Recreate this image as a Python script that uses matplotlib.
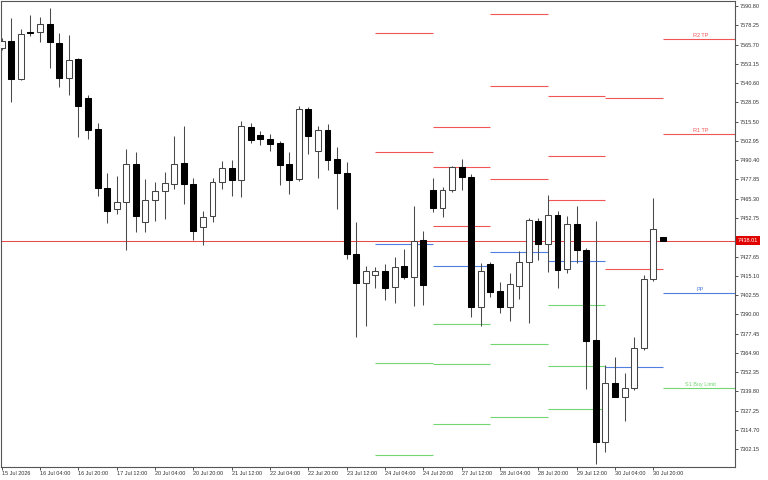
import numpy as np
import matplotlib
matplotlib.use('Agg')
from matplotlib import pyplot as plt

# H4 candles, 15 Jul 12:00 .. 31 Jul 00:00
opens = [7563.45, 7568.21, 7543.07, 7573.68, 7573.68, 7579.08, 7566.90, 7544.11, 7556.09, 7531.09,
         7510.71, 7472.48, 7458.41, 7462.97, 7488.11, 7449.95, 7464.47, 7470.33, 7475.08, 7488.76,
         7474.89, 7447.08, 7454.25, 7476.00, 7485.31, 7477.69, 7512.01, 7506.80, 7504.39, 7501.39,
         7488.11, 7477.95, 7523.73, 7496.18, 7509.86, 7491.17, 7482.25, 7429.31, 7410.62, 7415.43,
         7418.23, 7407.62, 7421.30, 7414.13, 7438.42, 7471.18, 7459.46, 7471.18, 7485.76, 7479.64,
         7394.99, 7422.60, 7405.21, 7394.60, 7408.66, 7423.90, 7450.99, 7435.82, 7454.70, 7419.54,
         7448.84, 7432.11, 7373.50, 7307.08, 7345.50, 7336.38, 7341.85, 7367.90, 7412.83, 7440.18]
highs = [7569.96, 7582.79, 7575.83, 7584.94, 7583.83, 7589.31, 7573.03, 7572.11, 7557.00, 7532.85,
         7514.42, 7481.86, 7480.10, 7497.49, 7495.53, 7478.15, 7476.00, 7482.51, 7506.34, 7512.66,
         7478.60, 7457.50, 7478.60, 7489.87, 7490.52, 7515.91, 7514.42, 7509.40, 7507.45, 7502.89,
         7495.73, 7525.68, 7525.23, 7512.66, 7513.77, 7498.98, 7489.22, 7449.95, 7421.69, 7420.84,
         7422.79, 7427.03, 7432.76, 7460.56, 7444.48, 7478.80, 7472.94, 7486.81, 7490.97, 7481.40,
         7423.25, 7424.10, 7410.88, 7416.74, 7431.06, 7452.55, 7452.55, 7467.73, 7457.31, 7454.05,
         7460.56, 7433.02, 7450.99, 7357.02, 7362.04, 7351.62, 7375.45, 7415.63, 7465.97, 7440.18]
lows = [7562.15, 7528.48, 7542.61, 7571.46, 7567.55, 7550.62, 7537.86, 7532.85, 7505.69, 7504.19,
        7467.27, 7449.69, 7455.16, 7431.91, 7443.44, 7443.44, 7450.99, 7451.90, 7471.63, 7461.87,
        7438.42, 7435.17, 7450.34, 7471.63, 7467.07, 7466.23, 7501.39, 7500.48, 7496.38, 7474.43,
        7468.18, 7476.84, 7494.43, 7478.99, 7483.81, 7458.61, 7425.85, 7375.06, 7382.42, 7406.84,
        7399.15, 7397.72, 7412.83, 7395.64, 7396.09, 7456.46, 7453.60, 7469.88, 7470.98, 7388.08,
        7382.61, 7401.50, 7391.08, 7385.87, 7400.00, 7384.57, 7425.59, 7417.78, 7406.97, 7416.74,
        7423.25, 7341.39, 7292.55, 7300.56, 7335.99, 7320.75, 7340.74, 7366.79, 7411.72, 7438.01]
closes = [7568.01, 7543.07, 7572.37, 7573.22, 7578.89, 7567.16, 7544.11, 7555.44, 7525.68, 7510.05,
          7472.09, 7457.50, 7462.97, 7487.72, 7453.86, 7464.27, 7470.14, 7475.34, 7487.91, 7474.69,
          7444.48, 7453.60, 7476.00, 7485.11, 7477.30, 7512.46, 7503.54, 7504.19, 7500.74, 7487.46,
          7477.30, 7523.73, 7506.34, 7509.86, 7490.52, 7482.05, 7429.31, 7410.62, 7418.04, 7418.04,
          7406.97, 7421.16, 7414.13, 7437.77, 7408.92, 7459.06, 7471.18, 7485.76, 7479.64, 7394.60,
          7418.04, 7404.36, 7394.60, 7409.57, 7423.90, 7451.25, 7435.62, 7454.70, 7418.89, 7448.84,
          7431.71, 7372.46, 7307.08, 7345.10, 7336.38, 7341.85, 7367.90, 7412.83, 7445.39, 7438.01]

tick_idx = list(range(0, 69, 4))
tick_labels = ['15 Jul 2026', '16 Jul 04:00', '16 Jul 20:00', '17 Jul 12:00', '20 Jul 04:00',
               '20 Jul 20:00', '21 Jul 12:00', '22 Jul 04:00', '22 Jul 20:00', '23 Jul 12:00',
               '24 Jul 04:00', '24 Jul 20:00', '27 Jul 12:00', '28 Jul 04:00', '28 Jul 20:00',
               '29 Jul 12:00', '30 Jul 04:00', '30 Jul 20:00']

# daily pivot levels (start candle of each day)
day_start = [39, 45, 51, 57, 63, 69]
r_levels = [[7573.03, 7495.53], [7511.81, 7486.16, 7447.34], [7585.59, 7538.51, 7478.15],
            [7532.00, 7492.93, 7464.27], [7530.89, 7419.34], [7569.12, 7507.25]]
pp_levels = [7435.62, 7421.49, 7430.41, 7424.55, 7355.91, 7403.91]
s_levels = [[7358.13, 7298.22], [7383.53, 7357.48, 7318.80], [7370.50, 7322.96],
            [7396.29, 7356.17, 7328.17], [], [7342.24]]
last_labels = {7569.12: 'R2 TP', 7507.25: 'R1 TP', 7403.91: 'PP', 7342.24: 'S1 Buy Limit'}

current_price = 7438.01
ytick_top = 7590.80
ytick_step = 12.55

RED = '#f25555'
BLUE = '#4f7fe0'
GREEN = '#72d672'

plt.rcParams['font.family'] = ['Liberation Sans', 'DejaVu Sans']
fig = plt.figure(figsize=(7.68, 4.8), dpi=100)
ax = fig.add_axes([1 / 768, 13 / 480, 734 / 768, 466 / 480])

xlim = (-0.073, 76.52)
ax.set_xlim(*xlim)
ax.set_ylim(7290.60, 7594.06)

# pivots
for k, s in enumerate(day_start):
    e = s + 6 if k < len(day_start) - 1 else xlim[1]
    for v in r_levels[k]:
        ax.hlines(v, s, e, color=RED, lw=0.8, zorder=1)
    ax.hlines(pp_levels[k], s, e, color=BLUE, lw=0.8, zorder=1)
    for v in s_levels[k]:
        ax.hlines(v, s, e, color=GREEN, lw=0.8, zorder=1)
for v, lab in last_labels.items():
    col = RED if 'R' in lab else (BLUE if lab == 'PP' else GREEN)
    ax.annotate(lab, (72.9, v), xytext=(0, 0.6), textcoords='offset points',
                ha='center', va='bottom', fontsize=4, color=col)

# current price line
ax.axhline(current_price, color='#e84a4a', lw=0.75, zorder=1)

# candles
x = np.arange(len(opens))
o = np.array(opens)
c = np.array(closes)
ax.vlines(x, lows, highs, color='#4a4a4a', lw=0.75, zorder=2)
bull = c >= o
bottoms = np.minimum(o, c)
heights = np.maximum(np.abs(c - o), 0.4)
ax.bar(x[bull], heights[bull], bottom=bottoms[bull], width=0.62,
       color='white', edgecolor='#444444', linewidth=0.75, zorder=3)
ax.bar(x[~bull], heights[~bull], bottom=bottoms[~bull], width=0.62,
       color='black', edgecolor='black', linewidth=0.75, zorder=3)

# axes look
for sp in ax.spines.values():
    sp.set_color('#555555')
    sp.set_linewidth(0.8)
ax.yaxis.tick_right()
yt = [ytick_top - ytick_step * k for k in range(24)]
ax.set_yticks(yt)
# the label under the current price box is hidden, as on the terminal
ax.set_yticklabels(['' if abs(v - current_price) < 5 else '%.2f' % v for v in yt])
ax.tick_params(axis='y', direction='out', length=2.2, width=0.6, pad=1.2,
               labelsize=4, colors='#333333')
ax.set_xticks(tick_idx)
ax.set_xticklabels(tick_labels, ha='left')
ax.tick_params(axis='x', direction='out', length=2.2, width=0.6, pad=0.8,
               labelsize=4, colors='#333333')

# price box on axis
ax.text(1.004, current_price, '%.2f' % current_price, transform=ax.get_yaxis_transform(),
        ha='left', va='center', fontsize=4, color='white', zorder=10, clip_on=False,
        bbox=dict(boxstyle='square,pad=0.3', fc='#e00000', ec='none'))

fig.savefig('out.png', dpi=100)
